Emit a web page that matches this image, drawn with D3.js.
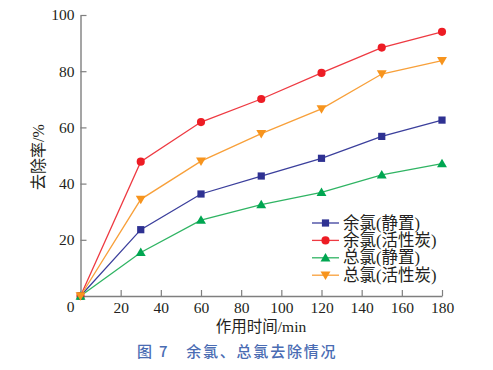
<!DOCTYPE html>
<html>
<head>
<meta charset="utf-8">
<script src="https://cdn.jsdelivr.net/npm/d3@7"></script>
<style>
  body { margin: 0; background: #fff; }
  text { font-family: "Liberation Serif", "Noto Sans CJK SC", serif; fill: #231f20; }
</style>
</head>
<body>
<div id="chart"></div>
<script>
// time (min) and removal rate (%) for each series
var times = [0, 30, 60, 90, 120, 150, 180];
var residualStatic = [0, 23.6, 36.3, 42.7, 49.0, 56.8, 62.6];
var residualCarbon = [0, 47.8, 61.9, 70.1, 79.4, 88.4, 94.0];
var totalStatic = [0, 15.5, 27.0, 32.5, 36.9, 43.1, 47.1];
var totalCarbon = [0, 34.4, 48.0, 57.8, 66.6, 79.0, 83.8];
var xTicks = [20, 40, 60, 80, 100, 120, 140, 160, 180];
var yTicks = [20, 40, 60, 80, 100];

var series = [
  { name: "余氯(静置)", values: residualStatic, color: "#2e3192", line: "#3b3f9c", shape: d3.symbolSquare },
  { name: "余氯(活性炭)", values: residualCarbon, color: "#ed1c24", line: "#ee3a42", shape: d3.symbolCircle },
  { name: "总氯(静置)", values: totalStatic, color: "#00a651", line: "#2fb463", shape: "up" },
  { name: "总氯(活性炭)", values: totalCarbon, color: "#f7941d", line: "#f8a03a", shape: "down" }
];

var width = 493, height = 370;
var svg = d3.select("#chart").append("svg")
  .attr("width", width)
  .attr("height", height);

var x = d3.scaleLinear().domain([0, 180]).range([80.5, 442]);
var y = d3.scaleLinear().domain([0, 100]).range([296, 15]);

// axes, ticks pointing inwards
var gx = svg.append("g")
  .attr("transform", "translate(0," + y(0) + ")")
  .call(d3.axisBottom(x).tickValues(xTicks).tickSizeInner(-6).tickSizeOuter(0).tickPadding(6));
var gy = svg.append("g")
  .attr("transform", "translate(" + x(0) + ",0)")
  .call(d3.axisLeft(y).tickValues(yTicks).tickSizeInner(-6).tickSizeOuter(0).tickPadding(6));

[gx, gy].forEach(function(g) {
  g.select(".domain").attr("stroke", "#7f7f7f").attr("stroke-width", 1.4);
  g.selectAll(".tick line").attr("stroke", "#7f7f7f").attr("stroke-width", 1.2);
  g.selectAll(".tick text").attr("font-size", 15.5).attr("fill", "#231f20")
    .style("font-family", "'Liberation Serif', serif");
});

// shared origin label
svg.append("text")
  .attr("x", x(0) - 10)
  .attr("y", y(0) + 16)
  .attr("text-anchor", "middle")
  .attr("font-size", 15.5)
  .text("0");

svg.append("text")
  .attr("x", 261)
  .attr("y", 332)
  .attr("text-anchor", "middle")
  .attr("font-size", 15.5)
  .text("作用时间/min");

svg.append("text")
  .attr("transform", "translate(44,157) rotate(-90)")
  .attr("text-anchor", "middle")
  .attr("font-size", 16)
  .text("去除率/%");

function marker(g, shape, color, size) {
  if (shape === "up" || shape === "down") {
    var h = size * 0.9, w = size * 0.55;
    var p = shape === "up"
      ? [[0, -h * 0.6], [w, h * 0.45], [-w, h * 0.45]]
      : [[0, h * 0.6], [w, -h * 0.45], [-w, -h * 0.45]];
    g.append("path").attr("d", "M" + p.join("L") + "Z").attr("fill", color);
  } else {
    g.append("path").attr("d", d3.symbol().type(shape).size(52)()).attr("fill", color);
  }
}

var line = d3.line()
  .x(function(d, i) { return x(times[i]); })
  .y(function(d) { return y(d); });

series.forEach(function(s) {
  svg.append("path")
    .datum(s.values)
    .attr("fill", "none")
    .attr("stroke", s.line)
    .attr("stroke-width", 1.3)
    .attr("d", line);
});

series.forEach(function(s) {
  s.values.forEach(function(v, i) {
    var g = svg.append("g").attr("transform", "translate(" + x(times[i]) + "," + y(v) + ")");
    marker(g, s.shape, s.color, 9);
  });
});

// legend
var legend = svg.append("g").attr("transform", "translate(312,223)");
series.forEach(function(s, i) {
  var row = legend.append("g").attr("transform", "translate(0," + i * 17.4 + ")");
  row.append("line").attr("x1", 0).attr("x2", 27).attr("y1", 0).attr("y2", 0)
    .attr("stroke", s.line).attr("stroke-width", 1.3);
  var m = row.append("g").attr("transform", "translate(13.5,0)");
  marker(m, s.shape, s.color, 9);
  row.append("text").attr("x", 31).attr("y", 5.5).attr("font-size", 16.5).text(s.name);
});

// caption
svg.append("text")
  .attr("x", 137)
  .attr("y", 357)
  .attr("font-size", 15)
  .attr("font-weight", 500)
  .attr("letter-spacing", 1.8)
  .style("font-family", "'Noto Sans CJK SC', sans-serif")
  .style("fill", "#4a6cb3")
  .text("图 7\u2003余氯、总氯去除情况");
</script>
</body>
</html>
